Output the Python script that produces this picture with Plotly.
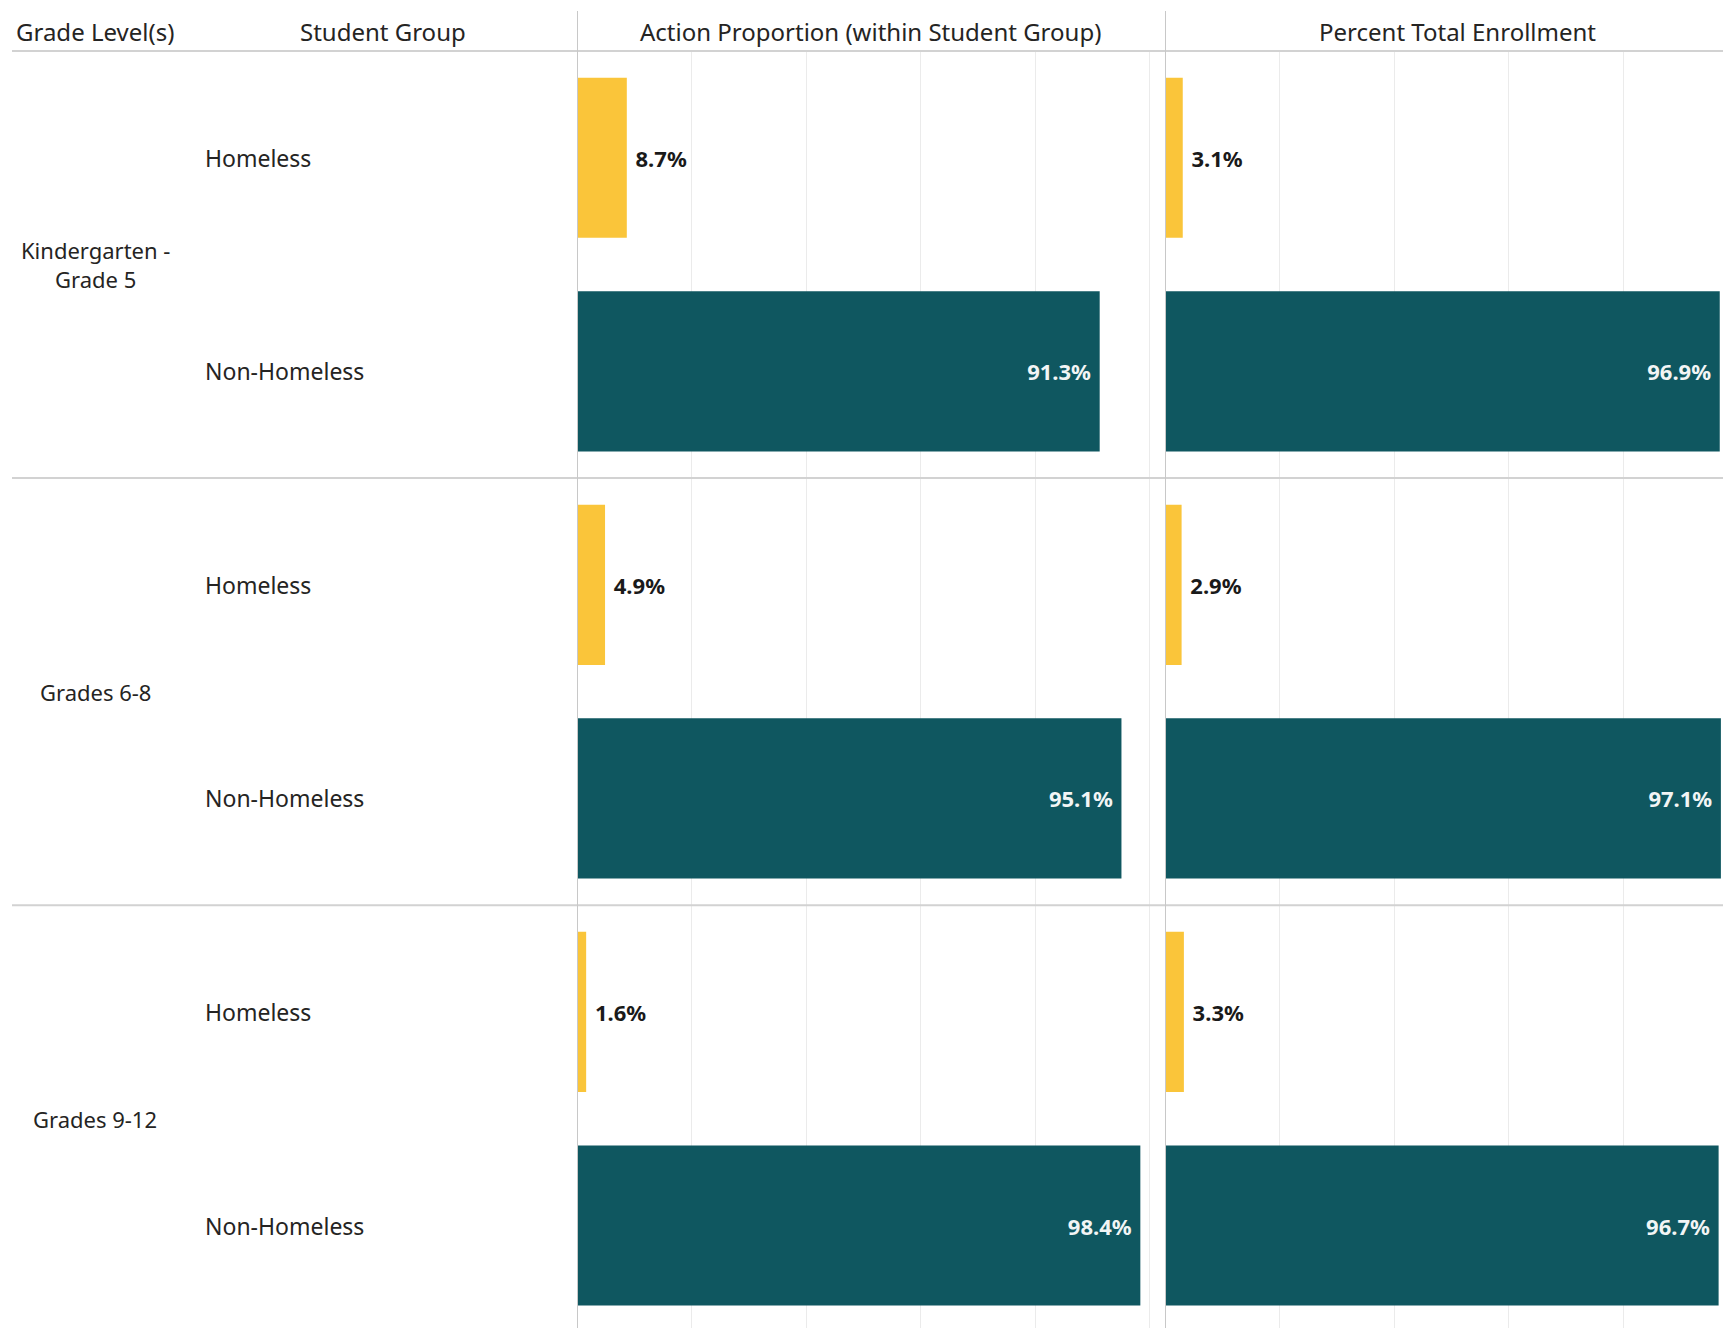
import plotly.graph_objects as go

# ---- data ----
grades = ["Kindergarten -<br>Grade 5", "Grades 6-8", "Grades 9-12"]
groups = ["Homeless", "Non-Homeless"]
action_homeless = [8.7, 4.9, 1.6]
action_non_homeless = [91.3, 95.1, 98.4]
enroll_homeless = [3.1, 2.9, 3.3]
enroll_non_homeless = [96.9, 97.1, 96.7]
panel_titles = ["Action Proportion (within Student Group)", "Percent Total Enrollment"]
left_headers = ["Grade Level(s)", "Student Group"]

VW, VH = 1731, 1328
OFF = 8  # default page body margin
W, H = VW - OFF, VH - OFF
YELLOW = "#FAC53A"
TEAL = "#0F5760"
TXT = "#252423"
FONT = "Noto Sans"

def px(x):
    return (x - OFF) / W

def py(y):
    return 1 - (y - OFF) / H

cats = [f"{g}|{grp}" for g in grades for grp in groups]
cat_h = [f"{g}|Homeless" for g in grades]
cat_n = [f"{g}|Non-Homeless" for g in grades]

fig = go.Figure()

def add_pair(hvals, nvals, xa):
    fig.add_trace(go.Bar(
        y=cat_h, x=hvals, orientation="h", xaxis=xa, yaxis="y",
        marker=dict(color=YELLOW, line=dict(width=0)), width=0.75,
        text=[f" {v:.1f}%" for v in hvals], textposition="outside",
        textfont=dict(family=FONT, size=22, color="#1a1a1a", weight="bold"),
        cliponaxis=False, showlegend=False, hoverinfo="skip"))
    fig.add_trace(go.Bar(
        y=cat_n, x=nvals, orientation="h", xaxis=xa, yaxis="y",
        marker=dict(color=TEAL, line=dict(width=0)), width=0.75,
        text=[f"{v:.1f}% " for v in nvals], textposition="inside",
        insidetextanchor="end",
        textfont=dict(family=FONT, size=22, color="#F2F5F5", weight="bold"),
        showlegend=False, hoverinfo="skip"))

add_pair(action_homeless, action_non_homeless, "x")
add_pair(enroll_homeless, enroll_non_homeless, "x2")

p1 = (577, 1154)
p2 = (1165, 1731)
scale = 5.725  # px per percent
axis_common = dict(showticklabels=False, ticks="", showgrid=True, gridcolor="#EBEBEB",
                   gridwidth=1, dtick=20, tick0=0, zeroline=False, showline=False,
                   fixedrange=True)
fig.update_layout(
    width=W, height=H,
    margin=dict(l=0, r=0, t=0, b=0),
    paper_bgcolor="white", plot_bgcolor="white",
    barmode="overlay",
    font=dict(family=FONT, size=22, color=TXT),
    xaxis=dict(domain=[px(p1[0]), px(p1[1])], range=[0, (p1[1] - p1[0]) / scale], anchor="y", **axis_common),
    xaxis2=dict(domain=[px(p2[0]), min(1, px(p2[1]))], range=[0, (p2[1] - p2[0]) / scale], anchor="y", **axis_common),
    yaxis=dict(domain=[0, py(51)], categoryorder="array", categoryarray=cats,
               range=[5.48, -0.5], showticklabels=False, ticks="", showgrid=False,
               zeroline=False, showline=False),
)

shapes = []
line_c = "#D2D2D2"
# header underline
shapes.append(dict(type="line", xref="paper", yref="paper", x0=px(12), x1=1, y0=py(51), y1=py(51),
                   line=dict(color=line_c, width=2)))
# group separators
for yv in [1.5, 3.5]:
    shapes.append(dict(type="line", xref="paper", yref="y", x0=px(12), x1=1, y0=yv, y1=yv,
                       line=dict(color=line_c, width=2)))
# panel zero lines
for xa in ["x", "x2"]:
    shapes.append(dict(type="line", xref=xa, yref="paper", x0=0, x1=0, y0=0, y1=py(11),
                       line=dict(color="#C8C8C8", width=2), layer="above"))
fig.update_layout(shapes=shapes)

ann = []
hdr = dict(size=24)
ann.append(dict(text=left_headers[0], x=px(14), y=py(31), xref="paper", yref="paper",
                xanchor="left", yanchor="middle", showarrow=False, font=hdr))
ann.append(dict(text=left_headers[1], x=px(383), y=py(31), xref="paper", yref="paper",
                xanchor="center", yanchor="middle", showarrow=False, font=hdr))
ann.append(dict(text=panel_titles[0], x=px(870), y=py(31), xref="paper", yref="paper",
                xanchor="center", yanchor="middle", showarrow=False, font=hdr))
ann.append(dict(text=panel_titles[1], x=px(1457), y=py(31), xref="paper", yref="paper",
                xanchor="center", yanchor="middle", showarrow=False, font=hdr))
for i, g in enumerate(grades):
    ann.append(dict(text=g, x=px(95), y=2 * i + 0.5, xref="paper", yref="y",
                    xanchor="center", yanchor="middle", showarrow=False, font=dict(size=22)))
for c in cats:
    ann.append(dict(text=c.split("|")[1], x=px(203), y=c, xref="paper", yref="y",
                    xanchor="left", yanchor="middle", showarrow=False, font=dict(size=23)))
fig.update_layout(annotations=ann)

fig.write_html("out.html")
